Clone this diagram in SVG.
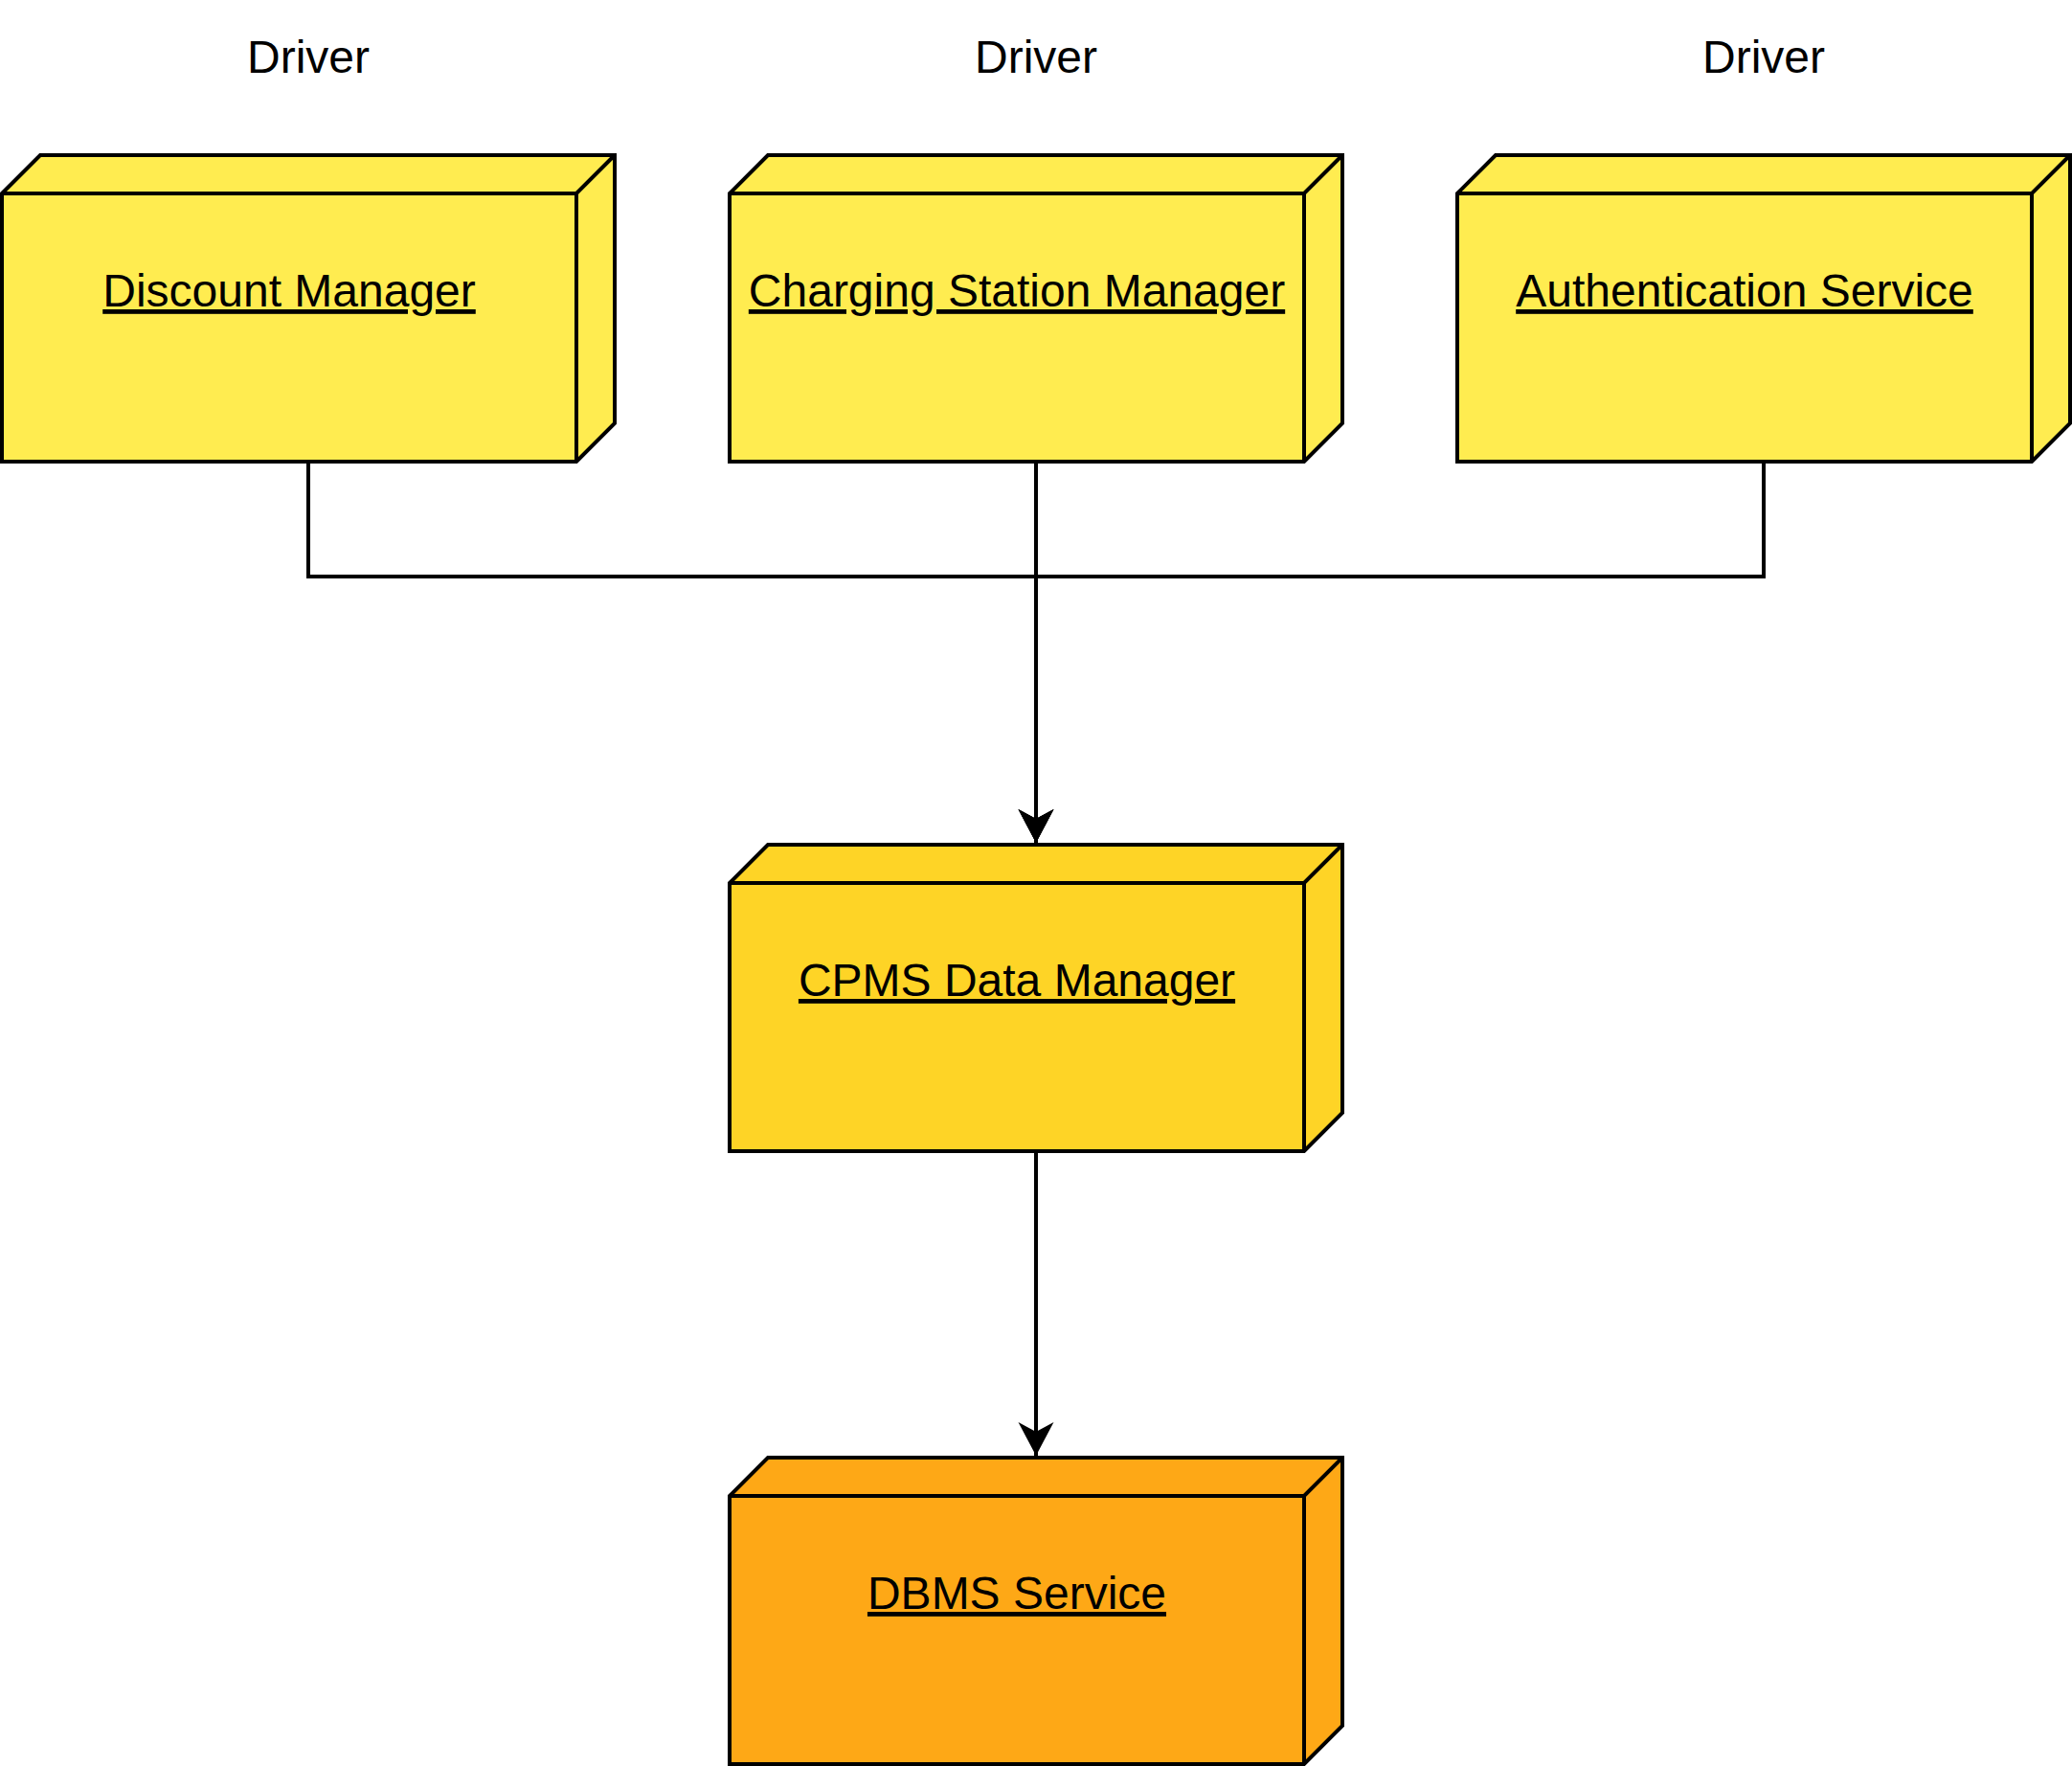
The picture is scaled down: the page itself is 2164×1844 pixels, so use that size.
<svg xmlns="http://www.w3.org/2000/svg" width="2164" height="1844" viewBox="0 0 2164 1844">
  <style>
    .box { stroke: #000000; stroke-width: 4; stroke-linejoin: miter; }
    .inner { fill: none; stroke: #000000; stroke-width: 4; }
    .n-top { fill: #FFEC50; }
    .n-mid { fill: #FED426; }
    .n-db { fill: #FEA816; }
    .lbl { font-family: "Liberation Sans", Arial, sans-serif; font-size: 48px; fill: #000000; text-anchor: middle; }
    .ulbl { text-decoration: underline; }
    .edge { fill: none; stroke: #000000; stroke-width: 4; }
  </style>
  <defs>
    <marker id="arrow" markerUnits="userSpaceOnUse" orient="auto" refX="0" refY="0" markerWidth="40" markerHeight="40" overflow="visible">
      <path d="M0,0 L-35,-18.5 L-25,0 L-35,18.5 Z" fill="#000000"/>
    </marker>
    <g id="nodeShape">
      <path d="M0,40 L40,0 L640,0 L640,280 L600,320 L0,320 Z"/>
      <path class="inner" d="M0,40 L600,40 L640,0 M600,40 L600,320"/>
    </g>
  </defs>

  <rect x="0" y="0" width="2164" height="1844" fill="#FFFFFF"/>

  <g id="drivers">
    <text class="lbl" x="322" y="76">Driver</text>
    <text class="lbl" x="1082" y="76">Driver</text>
    <text class="lbl" x="1842" y="76">Driver</text>
  </g>

  <g id="connectors">
    <path class="edge" d="M322,482 V602 H1082 V880" marker-end="url(#arrow)"/>
    <path class="edge" d="M1082,482 V880" marker-end="url(#arrow)"/>
    <path class="edge" d="M1842,482 V602 H1082 V880" marker-end="url(#arrow)"/>
    <path class="edge" d="M1082,1202 V1520" marker-end="url(#arrow)"/>
  </g>

  <g id="discount-manager" transform="translate(2,162)">
    <use href="#nodeShape" class="box n-top"/>
    <text class="lbl ulbl" x="300" y="158">Discount Manager</text>
  </g>

  <g id="charging-station-manager" transform="translate(762,162)">
    <use href="#nodeShape" class="box n-top"/>
    <text class="lbl ulbl" x="300" y="158">Charging Station Manager</text>
  </g>

  <g id="authentication-service" transform="translate(1522,162)">
    <use href="#nodeShape" class="box n-top"/>
    <text class="lbl ulbl" x="300" y="158">Authentication Service</text>
  </g>

  <g id="cpms-data-manager" transform="translate(762,882)">
    <use href="#nodeShape" class="box n-mid"/>
    <text class="lbl ulbl" x="300" y="158">CPMS Data Manager</text>
  </g>

  <g id="dbms-service" transform="translate(762,1522)">
    <use href="#nodeShape" class="box n-db"/>
    <text class="lbl ulbl" x="300" y="158">DBMS Service</text>
  </g>
</svg>
